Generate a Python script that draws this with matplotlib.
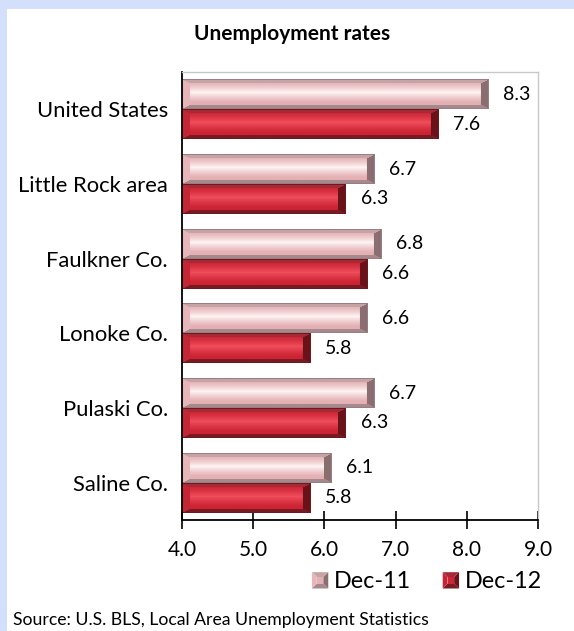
import numpy as np
import matplotlib
matplotlib.use("Agg")
import matplotlib.pyplot as plt
from matplotlib.patches import Polygon, Rectangle
from matplotlib.legend_handler import HandlerBase

plt.rcParams['font.family'] = ['Lato', 'DejaVu Sans']

# data
areas = ["United States", "Little Rock area", "Faulkner Co.", "Lonoke Co.", "Pulaski Co.", "Saline Co."]
dec11 = [8.3, 6.7, 6.8, 6.6, 6.7, 6.1]
dec12 = [7.6, 6.3, 6.6, 5.8, 6.3, 5.8]
series_names = ["Dec-11", "Dec-12"]
x_ticks = [4.0, 5.0, 6.0, 7.0, 8.0, 9.0]

# bevel colours: top, left, bottom, right, face edge, face middle, outline
pink = dict(top="#c4a4a7", left="#e6b6ba", bottom="#a6898c", right="#8a6e71",
            edge="#e4b0b4", mid="#fff4f4", line="#9a7e81")
red = dict(top="#a52a36", left="#c42636", bottom="#7a1a22", right="#6a121a",
           edge="#cc2434", mid="#f04e5c", line="#6e1820")


def rgb(c):
    return np.array(matplotlib.colors.to_rgb(c))


def bevel_image(wpx, hpx, col, bx=8, by=4):
    wpx = max(int(round(wpx)), 2)
    hpx = max(int(round(hpx)), 2)
    i, j = np.mgrid[0:hpx, 0:wpx]
    dt, db = i / by, (hpx - 1 - i) / by
    dl, dr = j / bx, (wpx - 1 - j) / bx
    d = np.stack([dt, dl, db, dr])
    which = np.argmin(d, axis=0)
    dmin = d.min(axis=0)
    img = np.zeros((hpx, wpx, 3))
    # face gradient
    t = (i - by) / max(hpx - 2 * by - 1, 1)
    t = np.clip(t, 0, 1)
    w = 1 - np.abs(2 * (t - 0.42)) / 1.0
    w = np.clip(w, 0, 1) ** 1.3
    face = rgb(col["edge"]) * (1 - w[..., None]) + rgb(col["mid"]) * w[..., None]
    img[:] = face
    keys = ["top", "left", "bottom", "right"]
    for k, key in enumerate(keys):
        m = (dmin < 1) & (which == k)
        img[m] = rgb(col[key])
    outline = (i == 0) | (i == hpx - 1) | (j == wpx - 1)
    img[outline] = rgb(col["line"])
    return img


class BevelHandler(HandlerBase):
    def __init__(self, col):
        super().__init__()
        self.col = col

    def create_artists(self, legend, orig_handle, xdescent, ydescent, width, height, fontsize, trans):
        s = height
        x0 = width - s - xdescent
        y0 = -ydescent + (height - s) / 2
        c = self.col
        inset = s * 0.3
        a = [x0, y0]; b_ = [x0 + s, y0]; cc = [x0 + s, y0 + s]; d = [x0, y0 + s]
        ia = [x0 + inset, y0 + inset]; ib = [x0 + s - inset, y0 + inset]
        ic = [x0 + s - inset, y0 + s - inset]; id_ = [x0 + inset, y0 + s - inset]
        arts = [
            Polygon([a, b_, ib, ia], closed=True, fc=c["bottom"], ec="none"),
            Polygon([b_, cc, ic, ib], closed=True, fc=c["right"], ec="none"),
            Polygon([cc, d, id_, ic], closed=True, fc=c["top"], ec="none"),
            Polygon([d, a, ia, id_], closed=True, fc=c["left"], ec="none"),
            Rectangle(ia, s - 2 * inset, s - 2 * inset, fc=c["edge"], ec="none"),
        ]
        for art in arts:
            art.set_transform(trans)
        return arts


fig = plt.figure(figsize=(5.74, 6.31), dpi=100)
fig.patch.set_facecolor("#d3dffb")
# white panel
fig.patches.append(Rectangle((7 / 574, 0), 1, 1 - 9 / 631, transform=fig.transFigure,
                             fc="white", ec="none", zorder=-5))

ax = fig.add_axes([182 / 574, 1 - 520 / 631, (538 - 182) / 574, (520 - 72) / 631])
ax.set_zorder(2)
ax.set_facecolor("none")

y = np.arange(len(areas))
h = 0.4
bars11 = ax.barh(y - h / 2, np.array(dec11) - 4.0, left=4.0, height=h, color="none", zorder=2)
bars12 = ax.barh(y + h / 2, np.array(dec12) - 4.0, left=4.0, height=h, color="none", zorder=2)

ax.set_xlim(4.0, 9.0)
ax.set_ylim(len(areas) - 0.5, -0.5)

fig.canvas.draw()
for bars, col in [(bars11, pink), (bars12, red)]:
    for p in bars:
        x0, y0 = p.get_x(), p.get_y()
        w, hh = p.get_width(), p.get_height()
        (px0, py0), (px1, py1) = ax.transData.transform([(x0, y0), (x0 + w, y0 + hh)])
        img = bevel_image(abs(px1 - px0), abs(py1 - py0), col)
        ax.imshow(img, extent=(x0, x0 + w, y0 + hh, y0), origin="upper",
                  aspect="auto", interpolation="bilinear", zorder=2)

ax.set_xlim(4.0, 9.0)
ax.set_ylim(len(areas) - 0.5, -0.5)

# value labels
for vals, off in [(dec11, -h / 2), (dec12, h / 2)]:
    for yi, v in zip(y, vals):
        ax.text(v + 0.21, yi + off, f"{v:.1f}", va="center", ha="left", fontsize=14, color="black")

ax.set_yticks(y)
ax.set_yticklabels(areas, fontsize=15.8)
ax.tick_params(axis="y", length=0, pad=10)
ax.set_xticks(x_ticks)
ax.set_xticklabels([f"{t:.1f}" for t in x_ticks], fontsize=15)
ax.tick_params(axis="x", direction="inout", length=13, width=1.2, pad=8)

for s in ["top", "right"]:
    ax.spines[s].set_color("#c8c8c8")
    ax.spines[s].set_linewidth(1.0)
for s in ["left", "bottom"]:
    ax.spines[s].set_color("black")
    ax.spines[s].set_linewidth(1.3)

fig.text(292 / 574, 1 - 34 / 631, "Unemployment rates", ha="center", va="center",
         fontsize=15, fontweight="bold")

h11 = Rectangle((0, 0), 1, 1)
h12 = Rectangle((0, 0), 1, 1)
fig.legend([h11, h12], series_names, loc="center right", bbox_to_anchor=(542 / 574, 1 - 582 / 631),
           ncol=2, frameon=False, fontsize=16.8, handlelength=0.75, handletextpad=0.25,
           columnspacing=1.3, borderpad=0, borderaxespad=0,
           handler_map={h11: BevelHandler(pink), h12: BevelHandler(red)})

fig.text(13 / 574, 1 - 620 / 631, "Source: U.S. BLS, Local Area Unemployment Statistics",
         ha="left", va="center", fontsize=12.7)

fig.savefig("out.png", dpi=100, facecolor=fig.get_facecolor())
